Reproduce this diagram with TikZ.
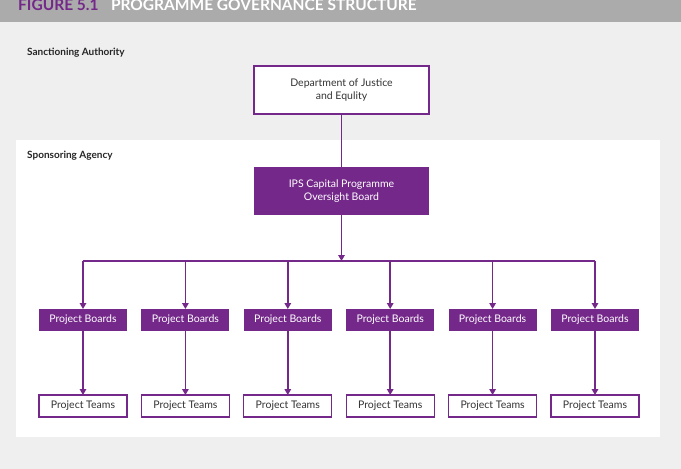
\documentclass[tikz,border=0pt]{standalone}
\usepackage{fontspec}
\setmainfont{Lato}
\usetikzlibrary{arrows.meta,positioning,calc}

\definecolor{govpurple}{RGB}{116,40,138}
\definecolor{bandgray}{RGB}{171,171,171}
\definecolor{pagegray}{RGB}{239,239,239}

\begin{document}
\begin{tikzpicture}[
  x=1pt, y=-1pt,
  font=\fontsize{10.5}{12.5}\selectfont,
  >={Triangle[length=6pt,width=6.5pt]},
  node distance=64pt and 14.4pt,
  line/.style={->, govpurple, line width=1.6pt},
  plain/.style={govpurple, line width=1.6pt},
  openbox/.style={
    draw=govpurple,
    line width=1.2pt,
    fill=white,
    text=black!80,
    align=center,
    inner sep=0pt,
    outer sep=0pt
  },
  fullbox/.style={
    fill=govpurple,
    text=white,
    align=center,
    inner sep=0pt,
    outer sep=0pt
  },
  big/.style={minimum width=175pt, minimum height=48pt},
  small/.style={minimum width=88pt, minimum height=22pt},
  tier/.style={
    anchor=base west,
    inner sep=0pt,
    font=\fontsize{10}{12}\selectfont\bfseries,
    text=black!85
  },
  headline/.style={
    anchor=base west,
    inner sep=0pt,
    font=\fontsize{15.5}{18}\selectfont\bfseries
  }
]

% page and bands
\useasboundingbox (0,0) rectangle (681,469);
\clip (0,0) rectangle (681,469);
\fill[pagegray] (0,0) rectangle (681,469);
\fill[bandgray] (0,0) rectangle (681,22);
\fill[white] (16,140) rectangle (660,437);

\node[headline, text=govpurple] (fignum) at (18,10) {FIGURE 5.1};
\node[headline, text=white, right=12pt of fignum.base east, anchor=base west]
  (figtitle) {PROGRAMME GOVERNANCE STRUCTURE};

\node[tier] (sanction) at (27,55) {Sanctioning Authority};
\node[tier] (sponsor) at (27,158) {Sponsoring Agency};

% top of the chart
\node[openbox, big] (doj) at (341.5,90) {Department of Justice\\and Equlity};
\node[fullbox, big] (ips) at (341.5,191) {IPS Capital Programme\\Oversight Board};

% boards
\node[fullbox, small] (pb1) at (83,320) {Project Boards};
\node[fullbox, small, right=of pb1] (pb2) {Project Boards};
\node[fullbox, small, right=of pb2] (pb3) {Project Boards};
\node[fullbox, small, right=of pb3] (pb4) {Project Boards};
\node[fullbox, small, right=of pb4] (pb5) {Project Boards};
\node[fullbox, small, right=of pb5] (pb6) {Project Boards};

% teams
\node[openbox, small, below=of pb1] (pt1) {Project Teams};
\node[openbox, small, below=of pb2] (pt2) {Project Teams};
\node[openbox, small, below=of pb3] (pt3) {Project Teams};
\node[openbox, small, below=of pb4] (pt4) {Project Teams};
\node[openbox, small, below=of pb5] (pt5) {Project Teams};
\node[openbox, small, below=of pb6] (pt6) {Project Teams};

% bus
\coordinate (busmid) at (341.5,261);
\coordinate (bus1) at (pb1.north |- busmid);
\coordinate (bus2) at (pb2.north |- busmid);
\coordinate (bus3) at (pb3.north |- busmid);
\coordinate (bus4) at (pb4.north |- busmid);
\coordinate (bus5) at (pb5.north |- busmid);
\coordinate (bus6) at (pb6.north |- busmid);

\draw[plain] (doj) -- (ips);
\draw[line] (ips) -- (busmid);
\draw[plain] (bus1) -- (bus6);

\draw[line] (bus1) -- (pb1);
\draw[line] (bus2) -- (pb2);
\draw[line] (bus3) -- (pb3);
\draw[line] (bus4) -- (pb4);
\draw[line] (bus5) -- (pb5);
\draw[line] (bus6) -- (pb6);

\draw[line] (pb1) -- (pt1);
\draw[line] (pb2) -- (pt2);
\draw[line] (pb3) -- (pt3);
\draw[line] (pb4) -- (pt4);
\draw[line] (pb5) -- (pt5);
\draw[line] (pb6) -- (pt6);

\end{tikzpicture}
\end{document}
